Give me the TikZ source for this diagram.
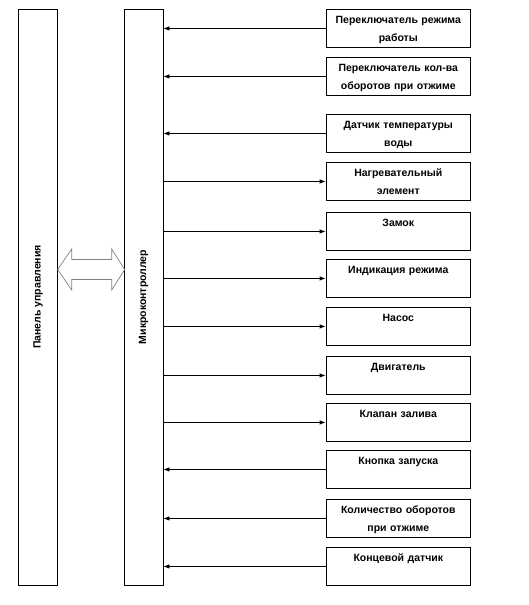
\documentclass[tikz,border=0pt]{standalone}
\usepackage{fontspec}
\setmainfont{Liberation Sans}
\usepackage{graphicx}
\usetikzlibrary{arrows.meta}

\tikzset{
  unit/.style={draw, line width=0.9pt, minimum width=38.5pt, minimum height=576pt, inner sep=0pt},
  part/.style={draw, line width=0.9pt, anchor=north, minimum width=144.5pt, text width=140pt, align=center,
    inner sep=0pt, text height=14.5pt, text depth=23.5pt},
  wire/.style={line width=0.8pt, -{Latex[length=6pt,width=4.5pt]}},
  linkarrow/.style={draw=gray, line width=0.7pt}
}

\begin{document}
\begin{tikzpicture}[x=1pt, y=-1pt, font=\bfseries\fontsize{10.5}{17.5}\selectfont]
  \useasboundingbox (0,0) rectangle (528,605);

  % блоки слева
  \node[unit] (panel) at (38,297) {\rotatebox{90}{Панель управления}};
  \node[unit] (mcu) at (143.7,297) {\rotatebox{90}{Микроконтроллер}};

  % двусторонняя связь
  \coordinate (tipL) at ([yshift=27.5pt]panel.east);
  \draw[linkarrow] (tipL) -- ++(14,-20.5) -- ++(0,10.5) -- ++(40,0) -- ++(0,-10.5) -- ++(13,20.5)
    -- ++(-13,20.5) -- ++(0,-10.5) -- ++(-40,0) -- ++(0,10.5) -- cycle;

  % периферия
  \node[part] (sw1) at (398.3,9) {Переключатель режима\\работы};
  \node[part] (sw2) at (398.3,57) {Переключатель кол-ва\\оборотов при отжиме};
  \node[part] (temp) at (398.3,114) {Датчик температуры\\воды};
  \node[part] (heat) at (398.3,162) {Нагревательный\\элемент};
  \node[part] (lock) at (398.3,212) {Замок};
  \node[part] (ind) at (398.3,259) {Индикация режима};
  \node[part] (pump) at (398.3,307) {Насос};
  \node[part] (motor) at (398.3,356) {Двигатель};
  \node[part] (valve) at (398.3,403) {Клапан залива};
  \node[part] (start) at (398.3,450) {Кнопка запуска};
  \node[part] (rpm) at (398.3,499) {Количество оборотов\\при отжиме};
  \node[part] (limit) at (398.3,547) {Концевой датчик};

  % входы
  \foreach \n in {sw1,sw2,temp,start,rpm,limit}
    \draw[wire] (\n.west) -- (mcu.east |- \n.west);
  % выходы
  \foreach \n in {heat,lock,ind,pump,motor,valve}
    \draw[wire] (mcu.east |- \n.west) -- (\n.west);
\end{tikzpicture}
\end{document}
